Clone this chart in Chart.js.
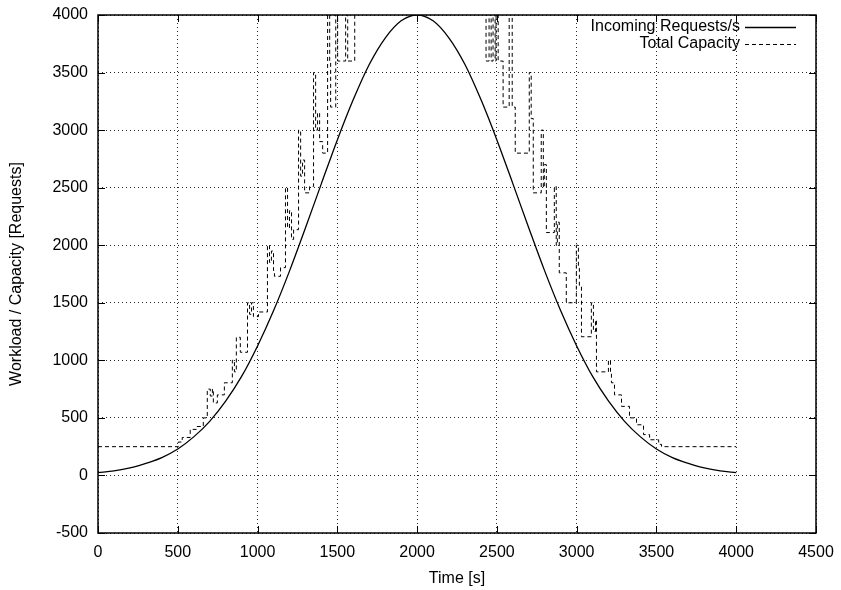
<!DOCTYPE html>
<html>
<head>
<meta charset="utf-8">
<script src="https://cdn.jsdelivr.net/npm/chart.js@4.4.1/dist/chart.umd.min.js"></script>
<style>
  html, body { margin: 0; padding: 0; background: #fff; }
  #wrap { width: 841px; height: 590px; }
</style>
</head>
<body>
<div id="wrap"><canvas id="workloadChart" width="841" height="590"></canvas></div>
<script>
// incoming request rate, read every 100 s
const timeS = [0, 100, 200, 300, 400, 500, 600, 700, 800, 900, 1000, 1100, 1200, 1300, 1400, 1500, 1600, 1700, 1800, 1900,
  2000, 2100, 2200, 2300, 2400, 2500, 2600, 2700, 2800, 2900, 3000, 3100, 3200, 3300, 3400, 3500, 3600, 3700, 3800, 3900, 4000];
const incomingRequests = [25, 40, 65, 105, 155, 230, 335, 470, 645, 860, 1125, 1430, 1775, 2150, 2535, 2915, 3265, 3570, 3800, 3950,
  4000, 3950, 3800, 3570, 3265, 2915, 2535, 2150, 1775, 1430, 1125, 860, 645, 470, 335, 230, 155, 105, 65, 40, 25];

// total capacity: time at which it changes, and the new value
const capacityTimes = [
  0, 503, 528, 578, 616, 660, 685, 704, 717, 723, 748,
  792, 842, 855, 867, 892, 937, 950, 962, 974, 1006,
  1062, 1075, 1087, 1100, 1106, 1144, 1175, 1188, 1200, 1213, 1226,
  1257, 1270, 1282, 1295, 1326, 1351, 1364, 1376, 1389, 1408,
  1439, 1452, 1458, 1490, 1502, 1552, 1565, 1609,
  2432, 2451, 2464, 2476, 2489, 2495, 2508, 2539, 2577, 2596, 2615,
  2703, 2715, 2728, 2778, 2791, 2797, 2810, 2860, 2872, 2879, 2891, 2935,
  2998, 3011, 3017, 3030, 3092, 3105, 3118, 3124, 3199, 3212, 3218, 3237,
  3281, 3331, 3375, 3419, 3457, 3514, 3532, 4000
];
const capacityValues = [
  250, 290, 330, 400, 425, 500, 750, 690, 750, 630, 700,
  805, 1000, 900, 1200, 1070, 1500, 1400, 1500, 1380, 1420,
  2000, 1850, 1950, 1780, 1730, 1805, 2500, 2150, 2300, 2050, 2135,
  3000, 2600, 2740, 2455, 2510, 3500, 3000, 3150, 2900, 2800,
  4400, 3600, 3200, 4400, 3600, 4400, 3600, 4400,
  3600, 4400, 3600, 4400, 3600, 4400, 3600, 3200, 4400, 3200, 2800,
  3500, 3100, 2455, 3000, 2500, 2700, 2110, 2510, 2000, 2200, 1760, 1500,
  2000, 1800, 1650, 1205, 1500, 1250, 1350, 900, 1000, 900, 805, 700,
  600, 500, 440, 355, 310, 270, 250, 250
];

const xTickValues = [0, 500, 1000, 1500, 2000, 2500, 3000, 3500, 4000, 4500];
const yTickValues = [-500, 0, 500, 1000, 1500, 2000, 2500, 3000, 3500, 4000];

const FONT = "'Liberation Sans', Arial, Helvetica, sans-serif";
Chart.defaults.color = "#000";
Chart.defaults.font.family = FONT;
Chart.defaults.font.size = 16;

// gnuplot-like frame, inward ticks on all sides, and the key top right
const frameAndKey = {
  id: "frameAndKey",
  afterDatasetsDraw(chart) {
    const { ctx, chartArea: a, scales } = chart;
    ctx.save();
    ctx.strokeStyle = "#000";
    ctx.lineWidth = 1;
    ctx.beginPath();
    xTickValues.forEach((v) => {
      const px = Math.round(scales.x.getPixelForValue(v)) + 0.5;
      ctx.moveTo(px, a.bottom);
      ctx.lineTo(px, a.bottom - 7);
      ctx.moveTo(px, a.top);
      ctx.lineTo(px, a.top + 7);
    });
    yTickValues.forEach((v) => {
      const py = Math.round(scales.y.getPixelForValue(v)) + 0.5;
      ctx.moveTo(a.left, py);
      ctx.lineTo(a.left + 7, py);
      ctx.moveTo(a.right, py);
      ctx.lineTo(a.right - 7, py);
    });
    ctx.stroke();
    ctx.lineWidth = 1.5;
    ctx.strokeRect(a.left, a.top, a.right - a.left, a.bottom - a.top);

    ctx.font = "16px " + FONT;
    ctx.textAlign = "right";
    ctx.textBaseline = "middle";
    ctx.fillStyle = "#000";
    chart.data.datasets.forEach((ds, i) => {
      const y = a.top + 12 + i * 16.5;
      ctx.fillText(ds.label, a.right - 76, y);
      ctx.setLineDash(ds.borderDash || []);
      ctx.lineWidth = ds.borderWidth;
      ctx.beginPath();
      ctx.moveTo(a.right - 71, Math.round(y) + 0.5);
      ctx.lineTo(a.right - 20, Math.round(y) + 0.5);
      ctx.stroke();
    });
    ctx.restore();
  }
};

const ctx = document.getElementById("workloadChart");
new Chart(ctx, {
  type: "line",
  data: {
    datasets: [
      {
        label: "Incoming Requests/s",
        data: timeS.map((t, i) => ({ x: t, y: incomingRequests[i] })),
        borderColor: "#000",
        borderWidth: 1.3,
        pointRadius: 0,
        cubicInterpolationMode: "monotone",
        fill: false
      },
      {
        label: "Total Capacity",
        data: capacityTimes.map((t, i) => ({ x: t, y: capacityValues[i] })),
        borderColor: "#000",
        borderWidth: 1,
        borderDash: [4, 3],
        pointRadius: 0,
        stepped: "before",
        fill: false
      }
    ]
  },
  options: {
    responsive: false,
    animation: false,
    layout: { padding: { top: 15, right: 25, left: 0, bottom: 0 } },
    plugins: { legend: { display: false }, tooltip: { enabled: false } },
    scales: {
      x: {
        type: "linear",
        min: 0,
        max: 4500,
        afterBuildTicks: (s) => { s.ticks = xTickValues.map((v) => ({ value: v })); },
        afterFit: (s) => { s.height = 57; },
        grid: { color: "rgba(0,0,0,0.85)", lineWidth: 1, drawTicks: true, tickLength: 5, tickColor: "transparent" },
        border: { display: false, dash: [1, 3] },
        ticks: { padding: 5, maxRotation: 0, autoSkip: false, callback: (v) => String(v) },
        title: { display: true, text: "Time [s]", padding: { top: 0, bottom: 2 } }
      },
      y: {
        min: -500,
        max: 4000,
        afterBuildTicks: (s) => { s.ticks = yTickValues.map((v) => ({ value: v })); },
        afterFit: (s) => { s.width = 98; },
        grid: { color: "rgba(0,0,0,0.85)", lineWidth: 1, drawTicks: true, tickLength: 5, tickColor: "transparent" },
        border: { display: false, dash: [1, 3] },
        ticks: { padding: 5, autoSkip: false, callback: (v) => String(v) },
        title: { display: true, text: "Workload / Capacity [Requests]", padding: { top: 7, bottom: 0 } }
      }
    }
  },
  plugins: [frameAndKey]
});
</script>
</body>
</html>
